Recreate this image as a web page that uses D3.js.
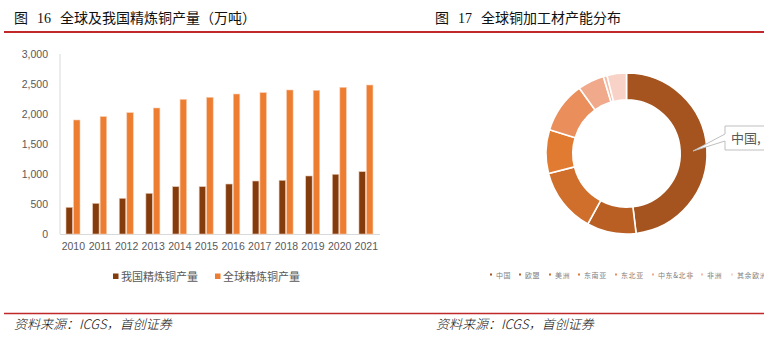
<!DOCTYPE html>
<html><head><meta charset="utf-8">
<script src="https://cdn.jsdelivr.net/npm/d3@7"></script>
<style>
html,body{margin:0;padding:0;background:#fff;}
svg{display:block;}
</style></head>
<body>
<svg id="c" width="764" height="337"></svg>
<script>
const years = ["2010","2011","2012","2013","2014","2015","2016","2017","2018","2019","2020","2021"];
const chinaValues = [445, 511, 595, 678, 789, 789, 833, 883, 895, 967, 995, 1039];
const globalValues = [1900, 1956, 2022, 2100, 2244, 2278, 2333, 2356, 2400, 2394, 2444, 2483];
const seriesNames = ["我国精炼铜产量", "全球精炼铜产量"];
const yTicks = [0, 500, 1000, 1500, 2000, 2500, 3000];
const regions = ["中国","欧盟","美洲","东南亚","东北亚","中东&北非","非洲","其余欧洲&"];
const shares = [48.1, 9.9, 13.0, 8.75, 10.3, 5.3, 0.75, 3.9];
const regionColors = ["#A5541F","#B95F24","#D06E2B","#E07B31","#EA8E5B","#F0A98A","#F4BCA6","#F8D2C6"];

const svg = d3.select("#c");
const cjk = "'Noto Sans CJK SC', 'Noto Sans', sans-serif";
const latin = "'Liberation Sans', Arial, sans-serif";

// Titles
function title(xPos, num, txt) {
  const t = svg.append("text").attr("y", 23).attr("font-family", cjk).attr("font-size", 14).attr("fill", "#111");
  t.append("tspan").attr("x", xPos).text("图");
  t.append("tspan").attr("x", xPos + 23).attr("font-family", "'Liberation Serif', serif").text(num);
  t.append("tspan").attr("x", xPos + 46).text(txt);
}
title(14, "16", "全球及我国精炼铜产量（万吨）");
title(435, "17", "全球铜加工材产能分布");
svg.append("line").attr("x1", 4).attr("x2", 764).attr("y1", 32).attr("y2", 32).attr("stroke", "#C0282A").attr("stroke-width", 2);
svg.append("line").attr("x1", 4).attr("x2", 764).attr("y1", 313.5).attr("y2", 313.5).attr("stroke", "#C0282A").attr("stroke-width", 1.6);
[14, 436].forEach(x => {
  svg.append("text").attr("x", x).attr("y", 329).attr("font-family", cjk).attr("font-size", 13).attr("font-style", "italic")
    .attr("font-weight", 300).attr("fill", "#111").text("资料来源：ICGS，首创证券");
});

// Bar chart
const x = d3.scaleBand().domain(years).range([60, 379.6]).padding(0);
const xs = d3.scaleBand().domain(seriesNames).range([6, 20]).paddingInner(0.14);
const y = d3.scaleLinear().domain([0, 3000]).range([234, 54]);
const barColors = ["#843C0C", "#ED7D31"];

svg.append("line").attr("x1", 60).attr("x2", 60).attr("y1", 54).attr("y2", 234).attr("stroke", "#D9D9D9");
svg.append("line").attr("x1", 60).attr("x2", 380).attr("y1", 234.5).attr("y2", 234.5).attr("stroke", "#D9D9D9");

const yAxis = d3.axisLeft(y).tickValues(yTicks).tickFormat(d3.format(",")).tickSize(0).tickPadding(0);
const ga = svg.append("g").attr("transform", "translate(48,0)").call(yAxis);
ga.select(".domain").remove();
ga.selectAll("text").attr("font-family", latin).attr("font-size", 10.5).attr("fill", "#595959");

const xAxis = d3.axisBottom(x).tickSize(0).tickPadding(0);
const gx = svg.append("g").attr("transform", "translate(0,243)").call(xAxis);
gx.select(".domain").remove();
gx.selectAll("text").attr("font-family", latin).attr("font-size", 10.5).attr("fill", "#595959").attr("dy", "0.71em");

const data = [chinaValues, globalValues];
data.forEach((vals, si) => {
  svg.append("g").selectAll("rect").data(years).join("rect")
    .attr("x", d => x(d) + xs(seriesNames[si]))
    .attr("width", xs.bandwidth())
    .attr("y", (d, i) => y(vals[i]))
    .attr("height", (d, i) => y(0) - y(vals[i]))
    .attr("fill", barColors[si])
    .attr("stroke", si === 0 ? "#E9C7B2" : "#F8CBAD").attr("stroke-width", 0.6);
});

// Legend left
const legX = [113, 215];
seriesNames.forEach((n, i) => {
  svg.append("rect").attr("x", legX[i]).attr("y", 273.5).attr("width", 5.5).attr("height", 5.5).attr("fill", barColors[i]);
  svg.append("text").attr("x", legX[i] + 8).attr("y", 281).attr("font-family", cjk).attr("font-size", 11).attr("fill", "#595959").text(n);
});

// Donut
const cx = 626.5, cy = 153.5;
const pie = d3.pie().sort(null).value(d => d);
const arc = d3.arc().innerRadius(53.7).outerRadius(80.5);
const gd = svg.append("g").attr("transform", `translate(${cx},${cy})`);
gd.selectAll("path").data(pie(shares)).join("path")
  .attr("d", arc).attr("fill", (d, i) => regionColors[i]).attr("stroke", "#fff").attr("stroke-width", 1.6);

// Callout
const callout = "M725,126 L770,126 L770,150 L725,150 L725,141 L693,151 L725,134 Z";
svg.append("path").attr("d", callout).attr("fill", "#fff").attr("stroke", "#BFBFBF").attr("stroke-width", 1);
svg.append("text").attr("x", 731).attr("y", 143).attr("font-family", cjk).attr("font-size", 13).attr("fill", "#595959").text(regions[0] + ",");

// Legend right
const rLegX = [490, 519, 549, 578, 615, 652, 701, 731];
regions.forEach((r, i) => {
  svg.append("rect").attr("x", rLegX[i]).attr("y", 273.5).attr("width", 2).attr("height", 2).attr("fill", regionColors[i]);
  svg.append("text").attr("x", rLegX[i] + 6).attr("y", 277.5).attr("font-family", cjk).attr("font-size", 7)
    .attr("letter-spacing", 0.6).attr("fill", "#7F7F7F").text(r);
});
</script>
</body></html>
